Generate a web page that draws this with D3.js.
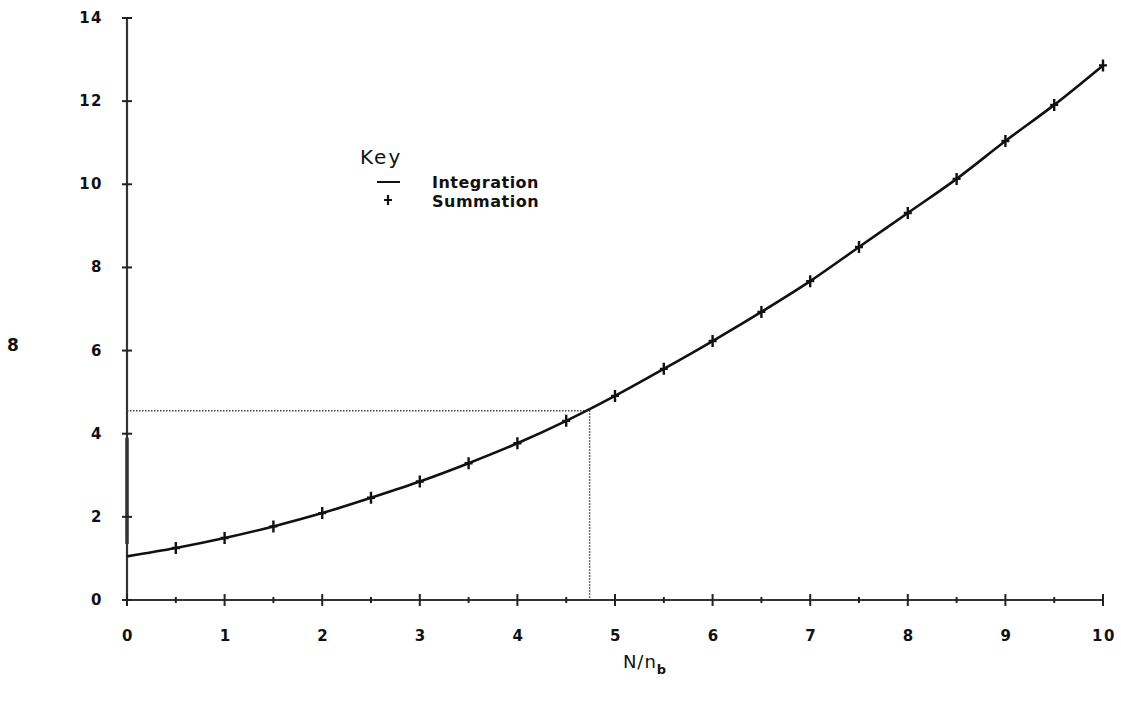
<!DOCTYPE html>
<html>
<head>
<meta charset="utf-8">
<script src="https://cdn.jsdelivr.net/npm/d3@7"></script>
<style>
  html, body { margin: 0; padding: 0; background: #fff; }
  text { font-family: "DejaVu Sans", sans-serif; fill: #111; }
</style>
</head>
<body>
<svg id="chart" width="1121" height="709"></svg>
<script>
// N/n_b positions where the sum was evaluated
const ratios = [0, 0.5, 1, 1.5, 2, 2.5, 3, 3.5, 4, 4.5, 5, 5.5, 6, 6.5, 7, 7.5, 8, 8.5, 9, 9.5, 10];
// Integrated curve values
const integration = [1.05, 1.25, 1.49, 1.77, 2.09, 2.46, 2.85, 3.29, 3.77, 4.31, 4.91, 5.56, 6.23, 6.93, 7.67, 8.49, 9.31, 10.13, 11.04, 11.91, 12.86];
// Summation markers (from 0.5 upward)
const sumRatios = [0.5, 1, 1.5, 2, 2.5, 3, 3.5, 4, 4.5, 5, 5.5, 6, 6.5, 7, 7.5, 8, 8.5, 9, 9.5, 10];
const summation = [1.25, 1.49, 1.77, 2.09, 2.46, 2.85, 3.29, 3.77, 4.31, 4.91, 5.56, 6.23, 6.93, 7.67, 8.49, 9.31, 10.13, 11.04, 11.91, 12.86];
// Tick labels
const xTickLabels = [0, 1, 2, 3, 4, 5, 6, 7, 8, 9, 10];
const yTickLabels = [0, 2, 4, 6, 8, 10, 12, 14];
// Read-off guide
const guideX = 4.74;
const guideY = 4.55;

const svg = d3.select("#chart");
const x = d3.scaleLinear().domain([0, 10]).range([127, 1103]);
const y = d3.scaleLinear().domain([0, 14]).range([600, 18]);

// Axes lines
svg.append("line").attr("x1", x(0)).attr("x2", x(0)).attr("y1", y(0)).attr("y2", y(14))
  .attr("stroke", "#333").attr("stroke-width", 2.2);
svg.append("line").attr("x1", x(0)).attr("x2", x(10)).attr("y1", y(0)).attr("y2", y(0))
  .attr("stroke", "#333").attr("stroke-width", 2.2);
// heavier stretch of the vertical axis
svg.append("line").attr("x1", x(0)).attr("x2", x(0)).attr("y1", y(3.9)).attr("y2", y(1.35))
  .attr("stroke", "#333").attr("stroke-width", 3.5);

// X ticks: majors at integers, minors at halves
const xMinor = d3.range(0.5, 10, 1);
svg.append("g").selectAll("line.xmaj").data(xTickLabels).join("line")
  .attr("x1", d => x(d)).attr("x2", d => x(d)).attr("y1", y(0) - 6).attr("y2", y(0) + 6)
  .attr("stroke", "#222").attr("stroke-width", 2);
svg.append("g").selectAll("line.xmin").data(xMinor).join("line")
  .attr("x1", d => x(d)).attr("x2", d => x(d)).attr("y1", y(0) - 3).attr("y2", y(0) + 3)
  .attr("stroke", "#222").attr("stroke-width", 2);
svg.append("g").selectAll("text").data(xTickLabels).join("text")
  .attr("x", d => x(d) + 1).attr("y", 641)
  .attr("text-anchor", "middle").attr("font-size", 15).attr("font-weight", 600)
  .attr("letter-spacing", 1.5)
  .text(d => d);

// Y ticks
svg.append("g").selectAll("line").data(yTickLabels).join("line")
  .attr("x1", x(0) - 5).attr("x2", x(0) + 5).attr("y1", d => y(d)).attr("y2", d => y(d))
  .attr("stroke", "#222").attr("stroke-width", 2);
svg.append("g").selectAll("text").data(yTickLabels).join("text")
  .attr("x", 103).attr("y", d => y(d) + 5)
  .attr("text-anchor", "end").attr("font-size", 15).attr("font-weight", 600)
  .attr("letter-spacing", 1.5)
  .text(d => d);

// Dotted read-off lines
svg.append("path")
  .attr("d", `M${x(0)},${y(guideY)}H${x(guideX)}V${y(0)}`)
  .attr("fill", "none").attr("stroke", "#444").attr("stroke-width", 1.5)
  .attr("stroke-dasharray", "1.5,1.5");

// Integration curve
const line = d3.line().x((d, i) => x(ratios[i])).y(d => y(d)).curve(d3.curveMonotoneX);
svg.append("path").datum(integration).attr("d", line)
  .attr("fill", "none").attr("stroke", "#111").attr("stroke-width", 2.6);

// Summation markers
svg.append("g").selectAll("path").data(summation).join("path")
  .attr("transform", (d, i) => `translate(${x(sumRatios[i])},${y(d)})`)
  .attr("d", "M-4,0H4M0,-6V6")
  .attr("stroke", "#111").attr("stroke-width", 2.4);

// Key
svg.append("text").attr("x", 360).attr("y", 164).attr("font-size", 20)
  .attr("letter-spacing", 2).text("Key");
svg.append("line").attr("x1", 377).attr("x2", 400).attr("y1", 182).attr("y2", 182)
  .attr("stroke", "#111").attr("stroke-width", 2);
svg.append("text").attr("x", 432).attr("y", 188).attr("font-size", 16).attr("font-weight", 600)
  .attr("letter-spacing", 0.5).text("Integration");
svg.append("path").attr("transform", "translate(388,200)").attr("d", "M-4,0H4M0,-5V5")
  .attr("stroke", "#111").attr("stroke-width", 2.2);
svg.append("text").attr("x", 432).attr("y", 207).attr("font-size", 16).attr("font-weight", 600)
  .attr("letter-spacing", 0.5).text("Summation");

// Axis titles
svg.append("text").attr("x", 13).attr("y", 351).attr("text-anchor", "middle")
  .attr("font-size", 17).attr("font-weight", 700).text("8");
const xt = svg.append("text").attr("x", 645).attr("y", 668).attr("text-anchor", "middle")
  .attr("font-size", 18).attr("letter-spacing", 1);
xt.append("tspan").text("N/n");
xt.append("tspan").attr("dy", 6).attr("font-size", 13).attr("font-weight", 700).text("b");
</script>
</body>
</html>
